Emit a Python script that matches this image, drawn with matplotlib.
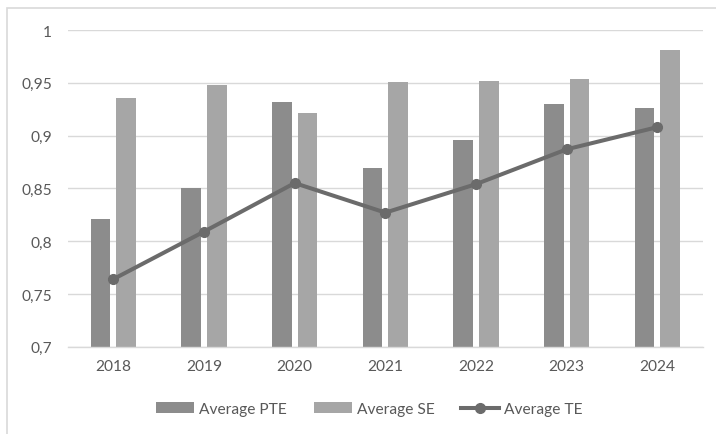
import matplotlib
matplotlib.use("Agg")
import matplotlib.pyplot as plt
from matplotlib.lines import Line2D
from matplotlib.patches import Patch, Rectangle
from matplotlib.ticker import FuncFormatter, MultipleLocator
import numpy as np

years = ["2018", "2019", "2020", "2021", "2022", "2023", "2024"]
avg_pte = [0.821, 0.850, 0.932, 0.869, 0.896, 0.930, 0.926]
avg_se = [0.936, 0.948, 0.921, 0.951, 0.952, 0.954, 0.981]
avg_te = [0.764, 0.809, 0.855, 0.827, 0.854, 0.887, 0.908]

PTE_COLOR = "#8c8c8c"
SE_COLOR = "#a6a6a6"
TE_COLOR = "#6b6b6b"
TEXT_COLOR = "#595959"
GRID_COLOR = "#d9d9d9"
FONT_SIZE = 11.2

plt.rcParams["font.family"] = ["Lato", "DejaVu Sans"]

fig = plt.figure(figsize=(7.16, 4.35), dpi=100)
ax = fig.add_axes([68 / 716, 1 - 347.7 / 435, (702.7 - 68) / 716, (347.7 - 31) / 435])

x = np.arange(len(years))
bar_w = 0.215
offset = 0.1415
ax.bar(x - offset, avg_pte, width=bar_w, bottom=0, color=PTE_COLOR, zorder=2)
ax.bar(x + offset, avg_se, width=bar_w, bottom=0, color=SE_COLOR, zorder=2)
ax.plot(x, avg_te, color=TE_COLOR, linewidth=2.9, marker="o", markersize=7,
        zorder=3, solid_capstyle="round")

ax.set_xlim(-0.5, len(years) - 0.5)
ax.set_ylim(0.7, 1.0)
ax.yaxis.set_major_locator(MultipleLocator(0.05))
ax.yaxis.set_major_formatter(FuncFormatter(lambda v, _: f"{v:.2f}".rstrip("0").rstrip(".").replace(".", ",")))
ax.set_xticks(x)
ax.set_xticklabels(years)

ax.grid(axis="y", color=GRID_COLOR, linewidth=1.0, zorder=0)
ax.set_axisbelow(True)
for side in ["top", "right", "left"]:
    ax.spines[side].set_visible(False)
ax.spines["bottom"].set_color(GRID_COLOR)
ax.spines["bottom"].set_linewidth(1.0)
ax.tick_params(axis="both", length=0, labelsize=FONT_SIZE, labelcolor=TEXT_COLOR)
ax.tick_params(axis="y", pad=11.5)
ax.tick_params(axis="x", pad=9)

handles = [
    Patch(facecolor=PTE_COLOR, edgecolor="none", label="Average PTE"),
    Patch(facecolor=SE_COLOR, edgecolor="none", label="Average SE"),
    Line2D([0], [0], color=TE_COLOR, linewidth=2.9, marker="o", markersize=7,
           label="Average TE"),
]
fig.legend(handles=handles, loc="center", bbox_to_anchor=(369.5 / 716, 1 - 410 / 435),
           ncol=3, frameon=False, fontsize=FONT_SIZE, labelcolor=TEXT_COLOR,
           handlelength=2.45, handleheight=0.7, handletextpad=0.33,
           columnspacing=1.7, numpoints=1)

# chart area outline
fig.patches.append(Rectangle((7 / 716, -0.1), 1.2, 1 - 9 / 435 + 0.1,
                             transform=fig.transFigure, fill=False,
                             edgecolor=GRID_COLOR, linewidth=1.2))

fig.savefig("out.png", dpi=100)
